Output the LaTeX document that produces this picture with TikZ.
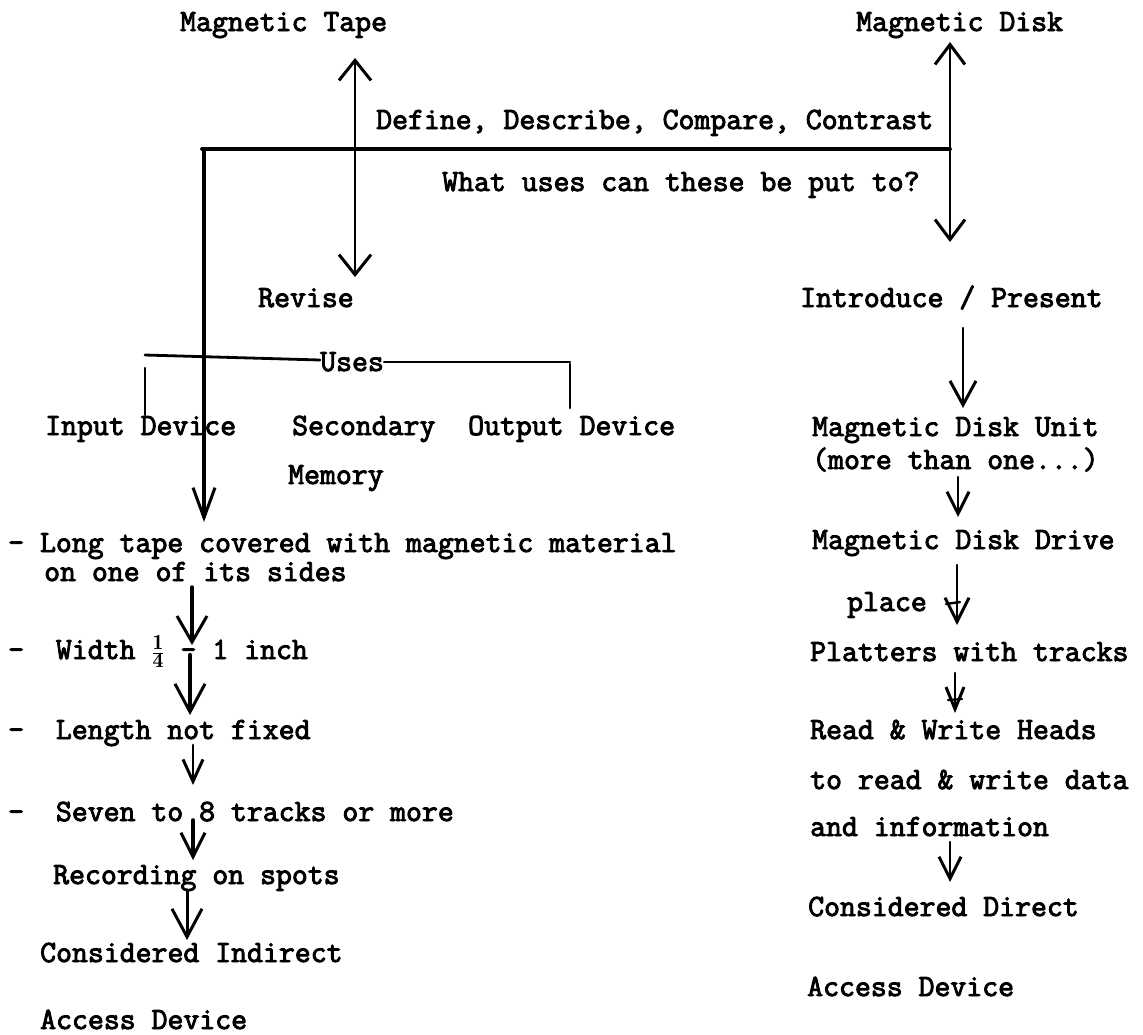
\documentclass[tikz,border=0pt]{standalone}
\usepackage{fontspec}
\newfontfamily\tw{Latin Modern Mono}[FakeBold=3]
\usetikzlibrary{arrows.meta}
\begin{document}
\begin{tikzpicture}[x=1pt,y=-1pt,
  txt/.style={anchor=base west, inner sep=0pt, font=\tw\fontsize{30.9}{33}\selectfont},
  ln/.style={line width=#1, line cap=round, line join=round},
  ah/.style n args={2}{-{Straight Barb[length=#1pt,width=#2pt,line width=3pt]}},
  dah/.style n args={2}{{Straight Barb[length=#1pt,width=#2pt,line width=3pt]}-{Straight Barb[length=#1pt,width=#2pt,line width=3pt]}}
]
\fill[white] (0,0) rectangle (1143,1034);
\useasboundingbox (0,0) rectangle (1143,1034);

% ---- text nodes (left x, baseline y = visual centre + 9)
\node[txt] (tape)   at (180,31)  {Magnetic Tape};
\node[txt] (disk)   at (856,31)  {Magnetic Disk};
\node[txt] (define) at (376,129) {Define, Describe, Compare, Contrast};
\node[txt] (what)   at (442,191) {What uses can these be put to?};
\node[txt] (revise) at (258,307) {Revise};
\node[txt] (intro)  at (800,307) {Introduce / Present};
\node[txt] (uses)   at (320,371) {Uses};
\node[txt] (input)  at (45,435)  {Input Device};
\node[txt] (second) at (292,435) {Secondary};
\node[txt] (output) at (468,435) {Output Device};
\node[txt] (memory) at (288,484) {Memory};
\node[txt] (long)   at (8,552)   {-~Long tape covered with magnetic material};
\node[txt] (sides)  at (44,581)  {on one of its sides};
\node[txt] (width)  at (8,659)   {-~~Width $\frac{\mathbf{1}}{\mathbf{4}}$ - 1 inch};
\node[txt] (length) at (8,739)   {-~~Length not fixed};
\node[txt] (seven)  at (8,821)   {-~~Seven to 8 tracks or more};
\node[txt] (rec)    at (53,884)  {Recording on spots};
\node[txt] (cind)   at (40,962)  {Considered Indirect};
\node[txt] (accl)   at (40,1029) {Access Device};

\node[txt] (unit)     at (812,436) {Magnetic Disk Unit};
\node[txt] (more)     at (812,469) {(more than one...)};
\node[txt] (drive)    at (812,549) {Magnetic Disk Drive};
\node[txt] (place)    at (847,611) {place};
\node[txt] (platters) at (810,661) {Platters with tracks};
\node[txt] (heads)    at (810,739) {Read \& Write Heads};
\node[txt] (toread)   at (810,789) {to read \& write data};
\node[txt] (andinfo)  at (810,836) {and information};
\node[txt] (cdir)     at (808,916) {Considered Direct};
\node[txt] (accr)     at (807,996) {Access Device};

% ---- connector end points
\coordinate (tT) at (355,58);   \coordinate (tB) at (355,277);
\coordinate (dT) at (950,42);   \coordinate (dB) at (950,242);
\coordinate (hL) at (202,149);  \coordinate (hR) at (950,149);
\coordinate (vT) at (204,149);  \coordinate (vB) at (204,522);
\coordinate (iT) at (963,328);  \coordinate (iB) at (963,408);
\coordinate (uT) at (958,477);  \coordinate (uB) at (958,517);
\coordinate (rT) at (957,565);  \coordinate (rB) at (957,625);
\coordinate (pT) at (955,673);  \coordinate (pB) at (955,713);
\coordinate (nT) at (950,842);  \coordinate (nB) at (950,882);
\coordinate (sT) at (192,587);  \coordinate (sB) at (192,645);
\coordinate (wT) at (190,655);  \coordinate (wB) at (190,715);
\coordinate (lT) at (193,745);  \coordinate (lB) at (193,785);
\coordinate (eT) at (193,820);  \coordinate (eB) at (193,860);
\coordinate (cT) at (187,890);  \coordinate (cB) at (187,940);
\coordinate (uL) at (145,355);  \coordinate (uR) at (570,362);
\coordinate (kLt) at (145,368); \coordinate (kLb) at (145,415);
\coordinate (kRt) at (570,364); \coordinate (kRb) at (570,408);

% ---- main structure
\draw[ln=2.6pt, dah={20}{32}] (tT) -- (tB);
\draw[ln=2.6pt, dah={20}{30}] (dT) -- (dB);
\draw[ln=3.8pt] (hL) -- (hR);
\draw[ln=4.2pt, ah={30}{22}] (vT) -- (vB);

% ---- uses bracket
\draw[ln=2.8pt] (uL) -- (uses.west |- 0,360);
\draw[ln=2.4pt] (uses.east |- 0,362) -- (uR);
\draw[ln=2.2pt] (kLt) -- (kLb);
\draw[ln=2.2pt] (kRt) -- (kRb);

% ---- right column
\draw[ln=2.4pt, ah={24}{26}] (iT) -- (iB);
\draw[ln=2.2pt, ah={22}{22}] (uT) -- (uB);
\draw[ln=2.4pt, ah={24}{24}] (rT) -- (rB);
\draw[ln=2.4pt] (946,604) -- (960,602);
\draw[ln=2.2pt, ah={22}{18}] (pT) -- (pB);
\draw[ln=2.2pt] (948,700) -- (962,699);
\draw[ln=2.2pt, ah={22}{22}] (nT) -- (nB);

% ---- left column
\draw[ln=3.4pt, ah={26}{30}] (sT) -- (sB);
\draw[ln=4.4pt, ah={28}{30}] (wT) -- (wB);
\draw[ln=2.8pt, ah={22}{20}] (lT) -- (lB);
\draw[ln=3.6pt, ah={24}{24}] (eT) -- (eB);
\draw[ln=3pt, ah={28}{30}] (cT) -- (cB);
\end{tikzpicture}
\end{document}
